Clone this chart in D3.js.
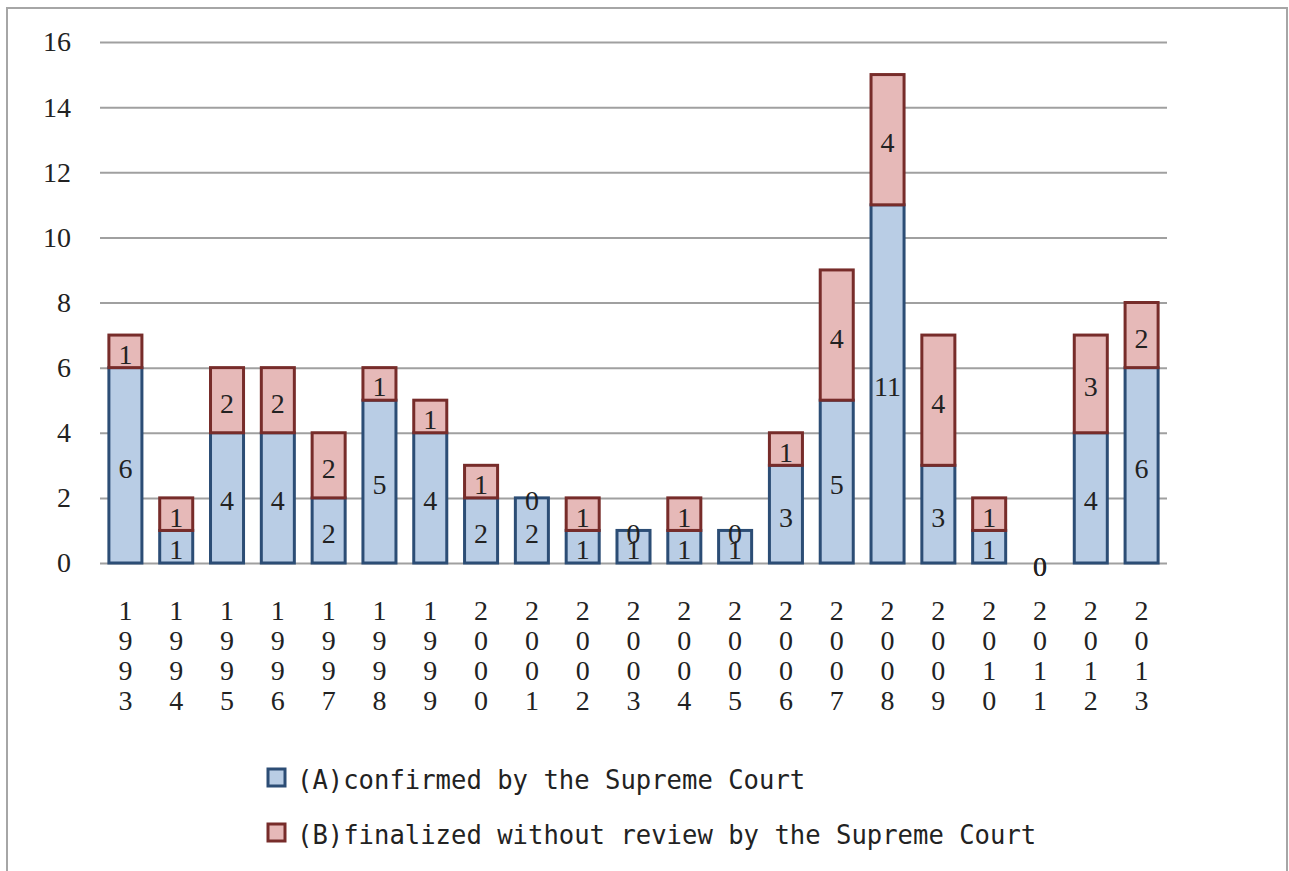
<!DOCTYPE html>
<html>
<head>
<meta charset="utf-8">
<script src="https://cdn.jsdelivr.net/npm/d3@7"></script>
<style>
  html, body { margin: 0; padding: 0; background: #fff; }
  svg { display: block; }
  .num { font-family: 'Liberation Serif', 'Times New Roman', Times, serif; font-size: 28px; fill: #222; }
  .leg { font-family: 'DejaVu Sans Mono', 'Liberation Mono', monospace; font-size: 27px; fill: #222; }
</style>
</head>
<body>
<div id="chart"></div>
<script>
const years = ['1993','1994','1995','1996','1997','1998','1999','2000','2001','2002','2003','2004','2005','2006','2007','2008','2009','2010','2011','2012','2013'];
const confirmed = [6,1,4,4,2,5,4,2,2,1,1,1,1,3,5,11,3,1,0,4,6];
const finalized = [1,1,2,2,2,1,1,1,0,1,0,1,0,1,4,4,4,1,0,3,2];
const yTicks = [0,2,4,6,8,10,12,14,16];
const seriesNames = ['(A)confirmed by the Supreme Court', '(B)finalized without review by the Supreme Court'];
const fills = ['#b9cde5', '#e6b9b8'];
const strokes = ['#2c4d75', '#772c2a'];

const W = 1289, H = 871;

const svg = d3.select('#chart').append('svg')
	.attr('width', W)
	.attr('height', H);

// outer frame (bottom edge runs off the picture)
svg.append('rect')
	.attr('x', 7).attr('y', 8)
	.attr('width', 1280).attr('height', 880)
	.attr('fill', 'none')
	.attr('stroke', '#a6a6a6')
	.attr('stroke-width', 2);

const scaleX = d3.scaleBand().domain(years).range([100, 1167]).paddingInner(0.35).paddingOuter(0.175);
const scaleY = d3.scaleLinear().domain([0, 16]).range([563, 42]);

////////////////////////////////////////////////////////////////////

const axisY = d3.axisLeft(scaleY)
	.tickValues(yTicks)
	.tickSize(-(1167 - 100))
	.tickPadding(29);
const axisYNode = svg.append('g')
	.attr('class', 'axis axis-y')
	.attr('transform', 'translate(100,0)')
	.call(axisY)
	.attr('font-family', null)
	.attr('font-size', null);
axisYNode.select('.domain').remove();
axisYNode.selectAll('.tick line')
	.attr('stroke', '#a0a0a0')
	.attr('stroke-width', 2);
axisYNode.selectAll('.tick text')
	.attr('class', 'num')
	.attr('fill', null);

////////////////////////////////////////////////////////////////////

const stackData = years.map((y, i) => ({year: y, a: confirmed[i], b: finalized[i]}));
const stacked = d3.stack().keys(['a', 'b'])(stackData);

const layers = svg.selectAll('.layer')
	.data(stacked)
	.enter().append('g')
	.attr('class', 'layer');

layers.selectAll('rect')
	.data((d, k) => d.map(p => ({p, k})))
	.enter().append('rect')
	.filter(d => d.p[1] > d.p[0])
	.attr('x', d => scaleX(d.p.data.year))
	.attr('y', d => scaleY(d.p[1]))
	.attr('width', scaleX.bandwidth())
	.attr('height', d => scaleY(d.p[0]) - scaleY(d.p[1]))
	.attr('fill', d => fills[d.k])
	.attr('stroke', d => strokes[d.k])
	.attr('stroke-width', 3);

// segment labels; zero segments sit on top of the stack like the original
layers.selectAll('text')
	.data(d => d)
	.enter().append('text')
	.attr('class', 'num')
	.attr('x', d => scaleX(d.data.year) + scaleX.bandwidth() / 2)
	.attr('y', d => (scaleY(d[0]) + scaleY(d[1])) / 2 + 3)
	.attr('text-anchor', 'middle')
	.attr('dominant-baseline', 'central')
	.text(d => d[1] - d[0]);

////////////////////////////////////////////////////////////////////

// year labels, one digit per line
const xLab = svg.selectAll('.xlab')
	.data(years)
	.enter().append('text')
	.attr('class', 'num xlab')
	.attr('text-anchor', 'middle');
xLab.selectAll('tspan')
	.data(d => d.split('').map(c => ({c, y: d})))
	.enter().append('tspan')
	.attr('x', d => scaleX(d.y) + scaleX.bandwidth() / 2)
	.attr('y', (d, i) => 620 + i * 30)
	.text(d => d.c);

////////////////////////////////////////////////////////////////////

const legend = svg.selectAll('.legend')
	.data(seriesNames)
	.enter().append('g')
	.attr('class', 'legend')
	.attr('transform', (d, i) => `translate(268,${769 + i * 55})`);
legend.append('rect')
	.attr('width', 17).attr('height', 17)
	.attr('fill', (d, i) => fills[i])
	.attr('stroke', (d, i) => strokes[i])
	.attr('stroke-width', 3);
legend.append('text')
	.attr('class', 'leg')
	.attr('x', 29)
	.attr('y', 20)
	.attr('textLength', d => d.length * 15.4)
	.attr('lengthAdjust', 'spacingAndGlyphs')
	.text(d => d);
</script>
</body>
</html>
